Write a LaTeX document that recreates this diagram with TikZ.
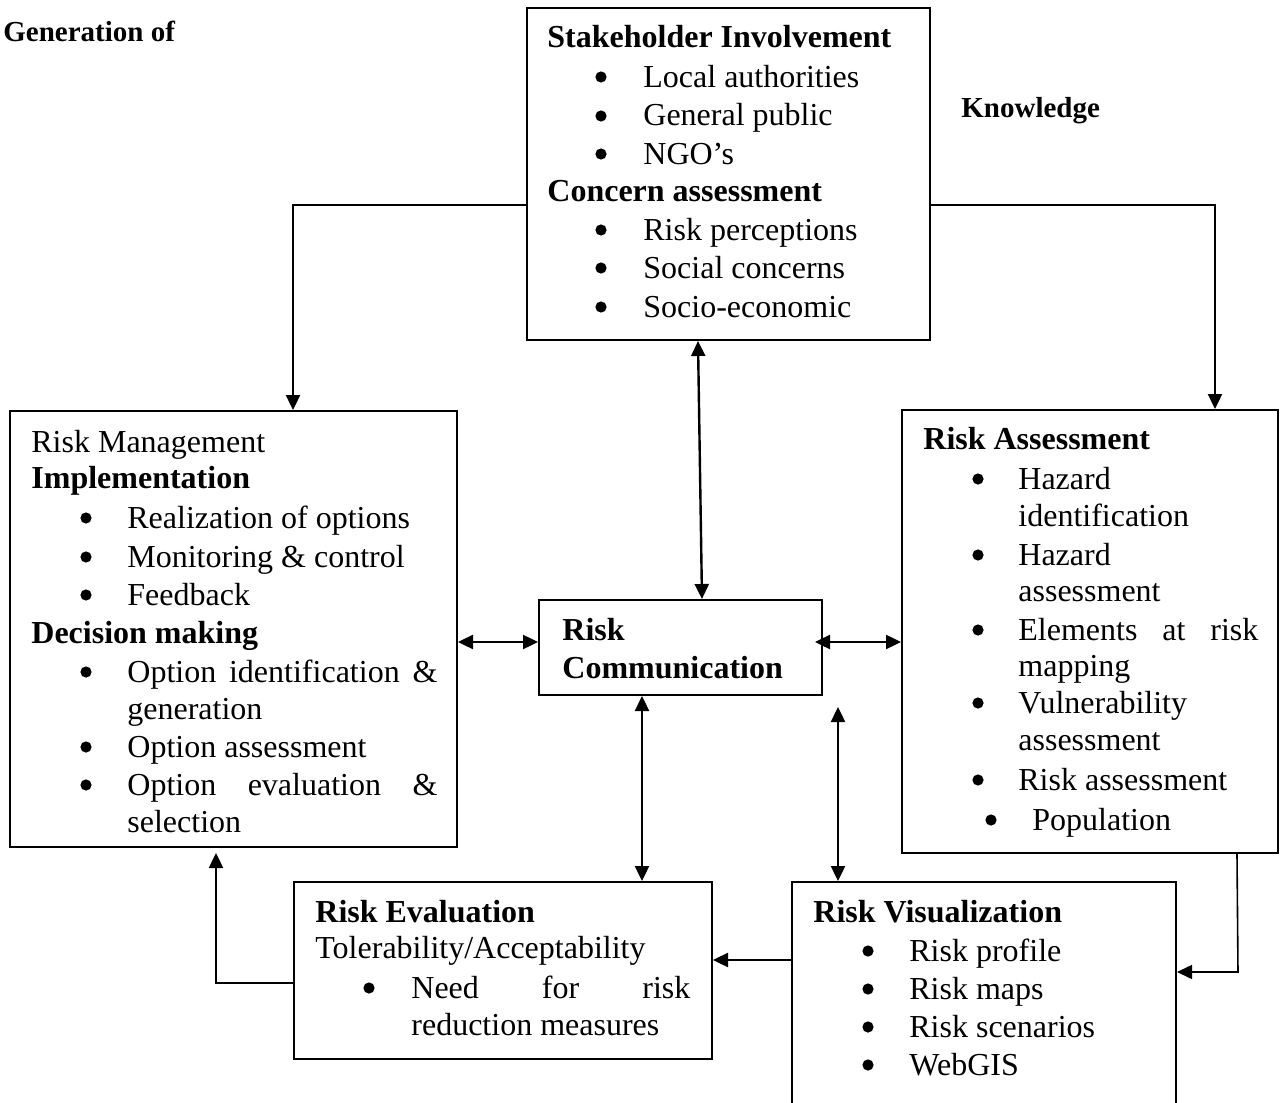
\documentclass[tikz,border=0pt]{standalone}
\usepackage{fontspec}
\setmainfont{Liberation Serif}
\usetikzlibrary{arrows.meta,fit}
\newcommand{\fsmain}{\fontsize{16pt}{19pt}\selectfont}
\newcommand{\fssmall}{\fontsize{14.5pt}{17pt}\selectfont\bfseries}
\tikzset{
  box/.style={draw, line width=1pt, inner sep=0pt},
  txt/.style={anchor=base west, inner sep=0pt, font=\fsmain},
  hd/.style={anchor=base west, inner sep=0pt, font=\fsmain\bfseries},
  bul/.style={circle, fill, draw=none, inner sep=0pt, minimum size=5.6pt, yshift=5pt},
  conn/.style={line width=1.2pt},
  arr/.style={conn, -{Triangle[length=7.5pt,width=7pt]}},
  darr/.style={conn, {Triangle[length=7.5pt,width=7pt]}-{Triangle[length=7.5pt,width=7pt]}},
}
\begin{document}
\begin{tikzpicture}[x=0.5pt, y=-0.5pt]
\useasboundingbox (0,0) rectangle (1282,1103);

% free labels
\node[anchor=base west, inner sep=0pt, font=\fssmall] (gen) at (3,41) {Generation of};
\node[anchor=base west, inner sep=0pt, font=\fssmall] (know) at (961,117) {Knowledge};

% boxes
\node[box, fit={(527,8) (930,340)}] (sh) {};
\node[box, fit={(10,411) (457,847)}] (rm) {};
\node[box, fit={(539,600) (822,695)}] (rc) {};
\node[box, fit={(902,410) (1278,853)}] (ra) {};
\node[box, fit={(294,882) (712,1059)}] (re) {};
\node[box, fit={(792,882) (1176,1112)}] (rv) {};

% Stakeholder box text
\node[hd] (sh1) at (547,47) {Stakeholder Involvement};
\node[bul] (shb1) at (601,87) {};
\node[txt] (sh2) at (643,87) {Local authorities};
\node[bul] (shb2) at (601,126) {};
\node[txt] (sh3) at (643,126) {General public};
\node[bul] (shb3) at (601,164) {};
\node[txt] (sh4) at (643,164) {NGO’s};
\node[hd] (sh5) at (547,201) {Concern assessment};
\node[bul] (shb4) at (601,240) {};
\node[txt] (sh6) at (643,240) {Risk perceptions};
\node[bul] (shb5) at (601,278) {};
\node[txt] (sh7) at (643,278) {Social concerns};
\node[bul] (shb6) at (601,317) {};
\node[txt] (sh8) at (643,317) {Socio-economic};

% Risk management text
\node[txt] (rm1) at (31,452) {Risk Management};
\node[hd] (rm2) at (31,488) {Implementation};
\node[bul] (rmb1) at (86,528) {};
\node[txt] (rm3) at (127,528) {Realization of options};
\node[bul] (rmb2) at (86,567) {};
\node[txt] (rm4) at (127,567) {Monitoring \& control};
\node[bul] (rmb3) at (86,605) {};
\node[txt] (rm5) at (127,605) {Feedback};
\node[hd] (rm6) at (31,643) {Decision making};
\node[bul] (rmb4) at (86,682) {};
\node[txt] (rm7) at (127,682) {\makebox[155pt][s]{Option identification \&}};
\node[txt] (rm8) at (127,719) {generation};
\node[bul] (rmb5) at (86,757) {};
\node[txt] (rm9) at (127,757) {Option assessment};
\node[bul] (rmb6) at (86,795) {};
\node[txt] (rm10) at (127,795) {\makebox[155pt][s]{Option evaluation \&}};
\node[txt] (rm11) at (127,832) {selection};

% Risk communication text
\node[hd] (rc1) at (562,640) {Risk};
\node[hd] (rc2) at (562,678) {Communication};

% Risk assessment text
\node[hd] (ra1) at (923,449) {Risk Assessment};
\node[bul] (rab1) at (978,489) {};
\node[txt] (ra2) at (1018,489) {Hazard};
\node[txt] (ra3) at (1018,526) {identification};
\node[bul] (rab2) at (978,565) {};
\node[txt] (ra4) at (1018,565) {Hazard};
\node[txt] (ra5) at (1018,601) {assessment};
\node[bul] (rab3) at (978,640) {};
\node[txt] (ra6) at (1018,640) {\makebox[120pt][s]{Elements at risk}};
\node[txt] (ra7) at (1018,676) {mapping};
\node[bul] (rab4) at (978,713) {};
\node[txt] (ra8) at (1018,713) {Vulnerability};
\node[txt] (ra9) at (1018,750) {assessment};
\node[bul] (rab5) at (978,790) {};
\node[txt] (ra10) at (1018,790) {Risk assessment};
\node[bul] (rab6) at (991,830) {};
\node[txt] (ra11) at (1032,830) {Population};

% Risk evaluation text
\node[hd] (re1) at (315,922) {Risk Evaluation};
\node[txt] (re2) at (315,958) {Tolerability/Acceptability};
\node[bul] (reb1) at (369,998) {};
\node[txt] (re3) at (411,998) {\makebox[139.5pt][s]{Need for risk}};
\node[txt] (re4) at (411,1035) {reduction measures};

% Risk visualization text
\node[hd] (rv1) at (813,922) {Risk Visualization};
\node[bul] (rvb1) at (868,961) {};
\node[txt] (rv2) at (909,961) {Risk profile};
\node[bul] (rvb2) at (868,999) {};
\node[txt] (rv3) at (909,999) {Risk maps};
\node[bul] (rvb3) at (868,1037) {};
\node[txt] (rv4) at (909,1037) {Risk scenarios};
\node[bul] (rvb4) at (868,1075) {};
\node[txt] (rv5) at (909,1075) {WebGIS};

% free connector ends
\coordinate (rcR) at (815,642);
\coordinate (fv) at (838,707);
\coordinate (rmB) at (216,853);

% connectors
\draw[arr] (sh.west |- 0,205) -| (293,0 |- rm.north);
\draw[arr] (sh.east |- 0,205) -| (1215,0 |- ra.north);
\draw[darr] (698,0 |- sh.south) -- (702,0 |- rc.north);
\draw[darr] (rm.east |- 0,642) -- (rc.west |- 0,642);
\draw[darr] (rcR) -- (ra.west |- 0,642);
\draw[darr] (642,0 |- rc.south) -- (642,0 |- re.north);
\draw[darr] (fv) -- (838,0 |- rv.north);
\draw[arr, line width=0.8pt] (1237,0 |- ra.south) -- (1238,972) -- (rv.east |- 0,972);
\draw[arr] (rv.west |- 0,960) -- (re.east |- 0,960);
\draw[arr] (re.west |- 0,983) -| (rmB);
\end{tikzpicture}
\end{document}
